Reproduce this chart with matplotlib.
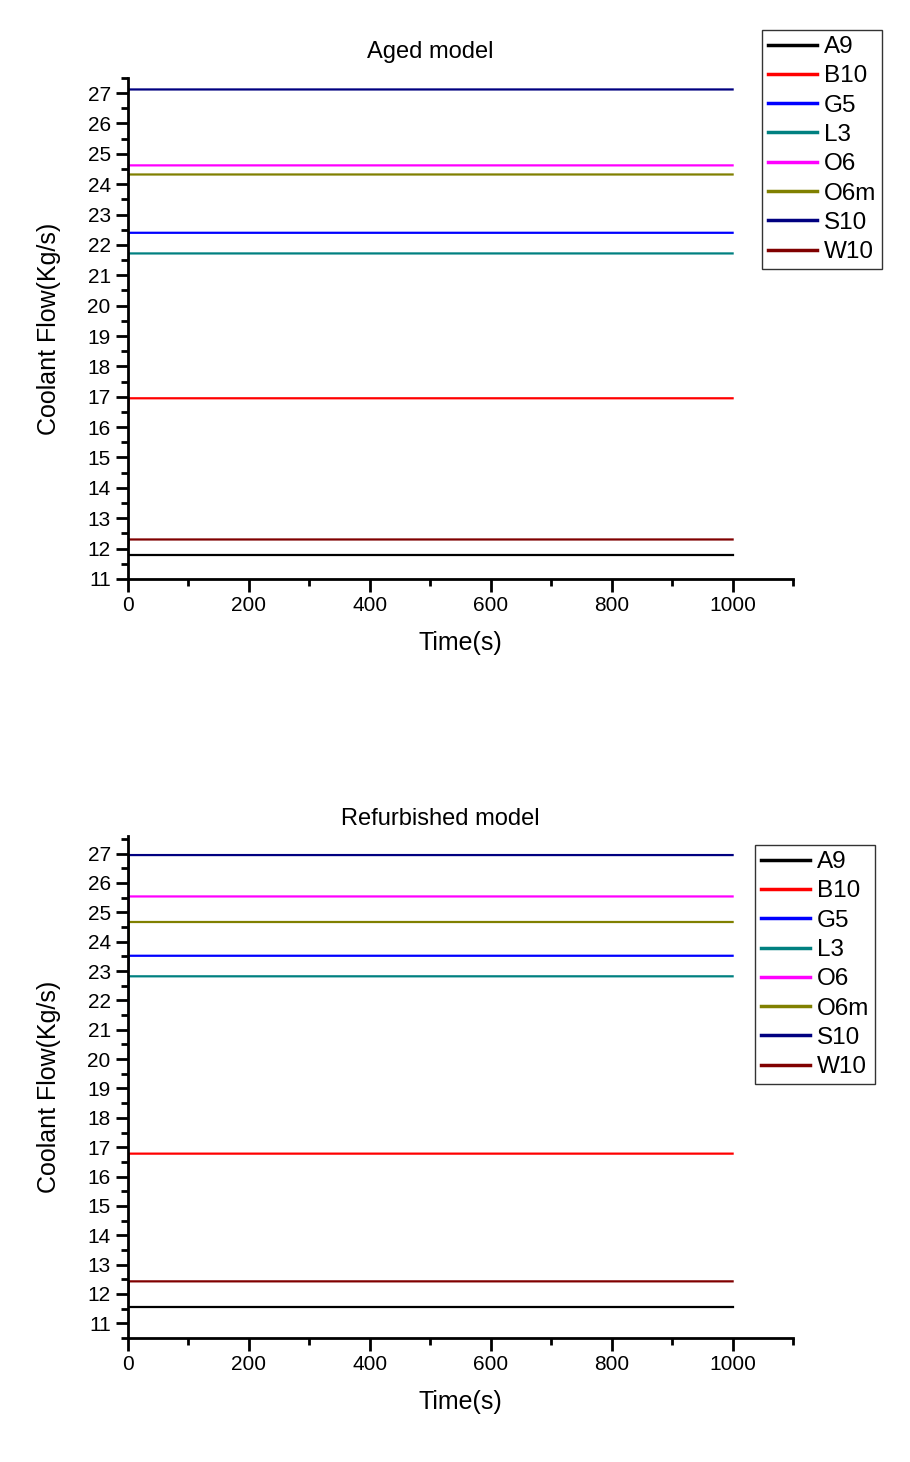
import numpy as np
import matplotlib.pyplot as plt
from matplotlib.ticker import MultipleLocator

plt.rcParams['font.family'] = ['Liberation Sans', 'DejaVu Sans']

names = ['A9', 'B10', 'G5', 'L3', 'O6', 'O6m', 'S10', 'W10']
colors = ['black', 'red', 'blue', '#008080', 'magenta', '#808000', '#000080', '#800000']

# time points: start, end of the initial step, end of run
time = [0, 1, 1000]

aged_start = [11.80, 16.60, 22.00, 21.40, 24.40, 24.10, 27.05, 12.00]
aged_flow = [11.80, 16.95, 22.40, 21.72, 24.62, 24.32, 27.12, 12.30]

refurb_start = [11.56, 15.64, 23.00, 21.60, 24.70, 22.80, 25.50, 11.70]
refurb_flow = [11.56, 16.78, 23.52, 22.82, 25.54, 24.67, 26.95, 12.43]

fig = plt.figure(figsize=(9.1, 14.62), dpi=100)

panels = [
    ('Aged model', aged_start, aged_flow, [0.1407, 0.6040, 0.7308, 0.3427], (11, 27.5), 0.454, 1.029,
     (762 / 910, 1 - 30 / 1462)),
    ('Refurbished model', refurb_start, refurb_flow, [0.1407, 0.0848, 0.7308, 0.3434], (10.5, 27.6), 0.47, 1.011,
     (755 / 910, 1 - 845 / 1462)),
]

for title, start, flow, pos, ylim, tx, ty, legpos in panels:
    ax = fig.add_axes(pos)
    for n, c, s, f in zip(names, colors, start, flow):
        ax.plot(time, [s, f, f], color=c, lw=1.6, label=n)
    ax.set_xlim(0, 1100)
    ax.set_ylim(*ylim)
    ax.spines['top'].set_visible(False)
    ax.spines['right'].set_visible(False)
    ax.spines['left'].set_linewidth(2)
    ax.spines['bottom'].set_linewidth(2)
    ax.xaxis.set_major_locator(MultipleLocator(200))
    ax.xaxis.set_minor_locator(MultipleLocator(100))
    ax.yaxis.set_major_locator(MultipleLocator(1))
    ax.yaxis.set_minor_locator(MultipleLocator(0.5))
    ax.set_xticks([0, 200, 400, 600, 800, 1000])
    ax.tick_params(which='major', direction='out', length=9, width=2, labelsize=15)
    ax.tick_params(which='minor', direction='out', length=5, width=2)
    ax.set_xlabel('Time(s)', fontsize=18, labelpad=11)
    ax.set_ylabel('Coolant Flow(Kg/s)', fontsize=18, labelpad=19)
    ax.text(tx, ty, title, transform=ax.transAxes, ha='center', va='bottom', fontsize=17)
    leg = fig.legend(handles=ax.get_lines(), loc='upper left', bbox_to_anchor=legpos,
                     fontsize=17.5, handlelength=2.0, handletextpad=0.3, labelspacing=0.3,
                     borderpad=0.25, borderaxespad=0, frameon=True, fancybox=False)
    leg.get_frame().set_edgecolor('black')
    leg.get_frame().set_linewidth(1)
    for line in leg.get_lines():
        line.set_linewidth(2.5)

fig.savefig('out.png', dpi=100)
